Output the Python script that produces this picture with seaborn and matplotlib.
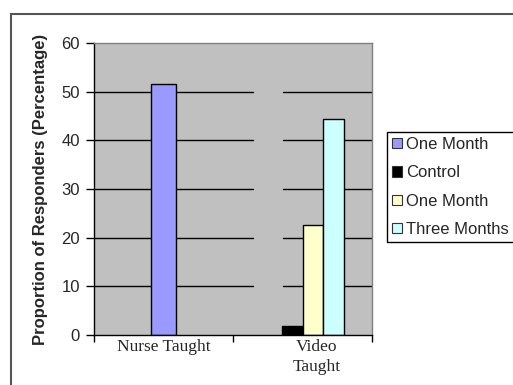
import matplotlib
matplotlib.use("Agg")
import matplotlib.pyplot as plt
import matplotlib.transforms as mtransforms
from matplotlib.patches import Patch, Rectangle
import pandas as pd
import seaborn as sns

# ---- data ----
categories = ["Nurse Taught", "Video Taught"]
category_labels = ["Nurse Taught", "Video\nTaught"]
series = ["One Month", "Control", "One Month ", "Three Months"]
series_colors = ["#9999FF", "#000000", "#FFFFCC", "#CCFFFF"]
nurse_value = [51.6]
video_series = ["Control", "One Month ", "Three Months"]
video_values = [1.8, 22.6, 44.4]
y_ticks = [0, 10, 20, 30, 40, 50, 60]
y_label = "Proportion of Responders (Percentage)"

sns.set_theme(style="white")
plt.rcParams["font.family"] = ["Liberation Sans", "DejaVu Sans"]

fig = plt.figure(figsize=(5.13, 3.85), dpi=100)
ax = fig.add_axes([94 / 513, 50 / 385, 278 / 513, 292 / 385])
ax.set_facecolor("#C0C0C0")

# gridlines (with the gap seen in the reference)
for t in y_ticks[1:-1]:
    ax.axhline(t, xmin=0, xmax=0.572, color="black", lw=1, zorder=0.5)
    ax.axhline(t, xmin=0.68, xmax=1, color="black", lw=1, zorder=0.5)

palette = dict(zip(series, series_colors))

# Nurse taught group: a single centred bar
sns.barplot(x=["Nurse Taught"], y=nurse_value, order=categories,
            color=series_colors[0], saturation=1, width=0.18,
            edgecolor="black", linewidth=1, ax=ax, zorder=2)

# Video taught group: dodged bars
df_video = pd.DataFrame({"group": ["Video Taught"] * len(video_series),
                         "series": video_series,
                         "value": video_values})
sns.barplot(data=df_video, x="group", y="value", hue="series",
            order=categories, hue_order=series, palette=palette,
            saturation=1, width=0.6, dodge=True, edgecolor="black",
            linewidth=1, legend=False, ax=ax, zorder=2)

ax.set_xlim(-0.5, 1.5)
ax.set_ylim(0, 60)
ax.set_yticks(y_ticks)
ax.set_yticklabels([str(t) for t in y_ticks], fontsize=12)
ax.set_xticks(range(len(categories)))
ax.set_xticklabels(category_labels, fontsize=12.5, family=["Liberation Serif"],
                   linespacing=1.3)
ax.set_xticks([-0.5, 0.5, 1.5], minor=True)
ax.tick_params(axis="x", which="major", length=0, pad=3)
ax.tick_params(axis="x", which="minor", length=5, width=1, color="black",
               direction="out", bottom=True)
ax.tick_params(axis="y", which="major", length=6, width=1, color="black",
               direction="out", left=True, pad=4)
# shift the second label slightly right as in the reference
lbls = ax.get_xticklabels()
lbls[1].set_transform(lbls[1].get_transform() +
                      mtransforms.ScaledTranslation(14 / 100, 0, fig.dpi_scale_trans))

ax.set_xlabel("")
ax.set_ylabel(y_label, fontsize=12, fontweight="bold", labelpad=10)

for side in ["left", "bottom"]:
    ax.spines[side].set_color("black")
    ax.spines[side].set_linewidth(1)
for side in ["top", "right"]:
    ax.spines[side].set_color("#808080")
    ax.spines[side].set_linewidth(1)

# legend
handles = [Patch(facecolor=c, edgecolor="#333333", linewidth=0.8)
           for c in series_colors]
leg = fig.legend(handles, ["One Month", "Control", "One Month", "Three Months"],
                 loc="upper left", bbox_to_anchor=(387 / 513, 1 - 132 / 385),
                 bbox_transform=fig.transFigure, fontsize=12, frameon=True,
                 fancybox=False, edgecolor="black", framealpha=1,
                 handlelength=0.6, handleheight=0.6, handletextpad=0.25,
                 labelspacing=0.8, borderpad=0.3, borderaxespad=0)
leg.get_frame().set_linewidth(1)

# outer chart border
fig.patches.append(Rectangle((11 / 513, -0.1), 1.2, 1.1 - 14 / 385,
                             transform=fig.transFigure, fill=False,
                             edgecolor="#555555", linewidth=1.5))

fig.savefig("out.png", dpi=100, facecolor="white")
